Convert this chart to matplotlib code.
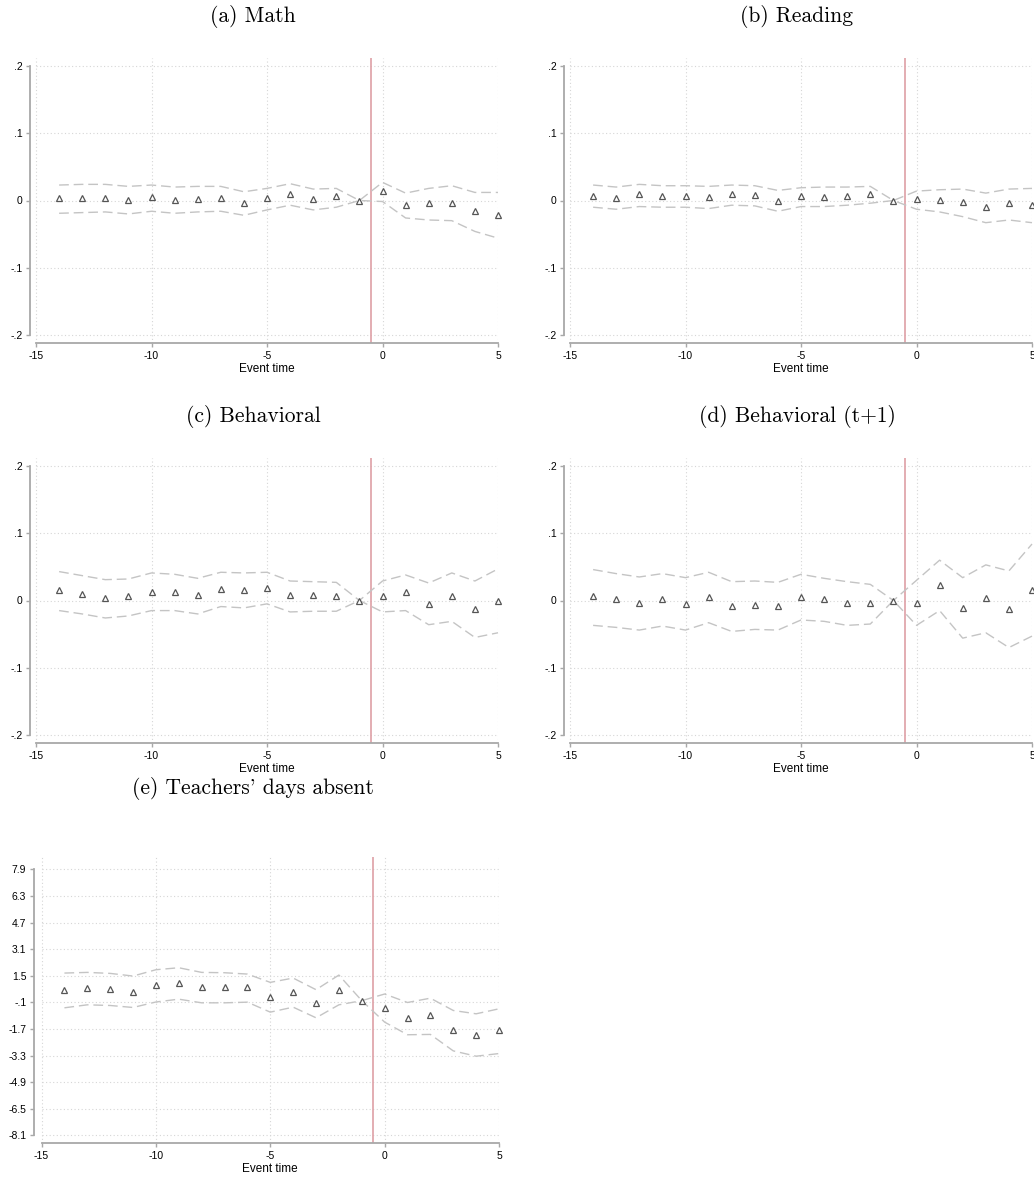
import matplotlib

matplotlib.use("Agg")
import matplotlib.pyplot as plt
import numpy as np

# event time periods (reference period is -1)
event_time = [-14, -13, -12, -11, -10, -9, -8, -7, -6, -5, -4, -3, -2, -1, 0, 1, 2, 3, 4, 5]

# (a) Math
math_b = [0.0035, 0.0035, 0.004, 0.001, 0.005, 0.001, 0.0025, 0.003, -0.004, 0.0035,
          0.009, 0.002, 0.006, 0.0, 0.014, -0.006, -0.004, -0.004, -0.016, -0.022]
math_hi = [0.023, 0.024, 0.024, 0.021, 0.023, 0.020, 0.021, 0.021, 0.013, 0.018,
           0.025, 0.017, 0.018, 0.0, 0.027, 0.011, 0.018, 0.022, 0.012, 0.012]
math_lo = [-0.019, -0.018, -0.017, -0.020, -0.016, -0.019, -0.017, -0.016, -0.022, -0.014,
           -0.007, -0.014, -0.010, 0.0, -0.0015, -0.026, -0.029, -0.030, -0.046, -0.056]

# (b) Reading
read_b = [0.007, 0.0035, 0.009, 0.0065, 0.0065, 0.0045, 0.009, 0.0075, 0.0, 0.0065,
          0.0055, 0.007, 0.009, 0.0, 0.002, 0.0005, -0.0015, -0.010, -0.0035, -0.0065]
read_hi = [0.023, 0.020, 0.024, 0.022, 0.022, 0.021, 0.023, 0.022, 0.015, 0.019,
           0.020, 0.020, 0.021, 0.0, 0.014, 0.016, 0.017, 0.011, 0.017, 0.018]
read_lo = [-0.010, -0.013, -0.009, -0.010, -0.010, -0.012, -0.007, -0.008, -0.016, -0.009,
           -0.009, -0.007, -0.004, 0.0, -0.013, -0.017, -0.024, -0.033, -0.029, -0.033]

# (c) Behavioral
beh_b = [0.015, 0.009, 0.003, 0.006, 0.013, 0.012, 0.0075, 0.017, 0.015, 0.019,
         0.0075, 0.0075, 0.006, 0.0, 0.006, 0.013, -0.0045, 0.006, -0.013, 0.0]
beh_hi = [0.043, 0.037, 0.031, 0.032, 0.041, 0.039, 0.033, 0.042, 0.041, 0.042,
          0.029, 0.028, 0.027, 0.0, 0.029, 0.038, 0.026, 0.041, 0.029, 0.047]
beh_lo = [-0.015, -0.020, -0.026, -0.023, -0.015, -0.015, -0.020, -0.009, -0.011, -0.005,
          -0.017, -0.016, -0.016, 0.0, -0.017, -0.015, -0.036, -0.031, -0.055, -0.048]

# (d) Behavioral (t+1)
beh1_b = [0.006, 0.0015, -0.004, 0.0015, -0.0045, 0.0055, -0.0085, -0.006, -0.0085, 0.0055,
          0.002, -0.0035, -0.0035, 0.0, -0.003, 0.023, -0.0105, 0.0035, -0.013, 0.015]
beh1_hi = [0.046, 0.040, 0.035, 0.040, 0.034, 0.042, 0.028, 0.029, 0.027, 0.039,
           0.033, 0.028, 0.024, 0.0, 0.030, 0.060, 0.034, 0.053, 0.044, 0.084]
beh1_lo = [-0.037, -0.040, -0.044, -0.038, -0.044, -0.033, -0.046, -0.043, -0.044, -0.029,
           -0.031, -0.037, -0.035, 0.0, -0.037, -0.015, -0.056, -0.048, -0.070, -0.053]

# (e) Teachers' days absent
abs_b = [0.64, 0.76, 0.68, 0.54, 0.92, 1.08, 0.82, 0.82, 0.82, 0.21,
         0.50, -0.15, 0.66, 0.0, -0.43, -1.05, -0.89, -1.79, -2.05, -1.75]
abs_hi = [1.66, 1.70, 1.64, 1.48, 1.86, 1.98, 1.70, 1.68, 1.60, 1.10,
          1.36, 0.66, 1.54, 0.0, 0.40, -0.11, 0.15, -0.59, -0.79, -0.49]
abs_lo = [-0.43, -0.25, -0.29, -0.41, -0.08, 0.09, -0.13, -0.13, -0.09, -0.69,
          -0.39, -1.03, -0.25, 0.0, -1.29, -2.05, -2.03, -3.02, -3.34, -3.18]

x_ticks = [-15, -10, -5, 0, 5]
small_ticks = [-0.2, -0.1, 0.0, 0.1, 0.2]
small_labels = ["-.2", "-.1", "0", ".1", ".2"]
abs_ticks = [-8.1, -6.5, -4.9, -3.3, -1.7, -0.1, 1.5, 3.1, 4.7, 6.3, 7.9]
abs_labels = ["-8.1", "-6.5", "-4.9", "-3.3", "-1.7", "-.1", "1.5", "3.1", "4.7", "6.3", "7.9"]

W, H = 1034, 1181
fig = plt.figure(figsize=(W / 100, H / 100), dpi=100)

SANS = "Liberation Sans"
SPINE = "#a8a8a8"
GRID = "#d6d6d6"


def panel(box, title, title_xy, b, lo, hi, yticks, ylabels, ylim, xpad):
    # box = (left, top, right, bottom) in pixels
    l, t, r, btm = box
    ax = fig.add_axes([l / W, 1 - btm / H, (r - l) / W, (btm - t) / H])
    ax.set_xlim(-15 - xpad, 5)
    ax.set_ylim(*ylim)

    ax.hlines(yticks, -15, 5, colors=GRID, linestyles=(0, (1, 2.2)), lw=0.8, zorder=0)
    ax.vlines(x_ticks, ylim[0], ylim[1], colors=GRID, linestyles=(0, (1, 2.2)), lw=0.8, zorder=0)

    ax.axvline(-0.5, color="#dea0a6", lw=1.2, zorder=1)
    ax.plot(event_time, hi, color="#c4c4c4", lw=1.0, dashes=(7, 3.5), zorder=2, clip_on=False)
    ax.plot(event_time, lo, color="#c4c4c4", lw=1.0, dashes=(7, 3.5), zorder=2, clip_on=False)
    ax.plot(event_time, b, ls="none", marker="^", ms=4.0, mfc="white", mec="#555555",
            mew=0.9, zorder=3, clip_on=False)

    for s in ["top", "right"]:
        ax.spines[s].set_visible(False)
    for s in ["left", "bottom"]:
        ax.spines[s].set_color(SPINE)
        ax.spines[s].set_linewidth(1.3)
    ax.spines["left"].set_bounds(min(yticks), max(yticks))
    ax.spines["bottom"].set_bounds(-15, 5)

    ax.set_xticks(x_ticks)
    ax.set_xticklabels([str(v) for v in x_ticks])
    ax.set_yticks(yticks)
    ax.set_yticklabels(ylabels)
    ax.tick_params(axis="both", length=3, width=1.0, color=SPINE, labelsize=7.5, pad=2.5)
    for lab in ax.get_xticklabels() + ax.get_yticklabels():
        lab.set_fontfamily(SANS)
    ax.set_xlabel("Event time", fontsize=8.5, fontfamily=SANS)
    ax.xaxis.set_label_coords((10 + xpad) / (20 + xpad), -20 / (btm - t))

    fig.text(title_xy[0] / W, 1 - title_xy[1] / H, title, ha="center", va="center",
             fontsize=15.5, fontfamily="cmr10")
    return ax


s_ylim = (-0.212, 0.212)
panel((30, 58, 498, 343), "(a) Math", (253, 16), math_b, math_lo, math_hi,
      small_ticks, small_labels, s_ylim, 0.26)
panel((564, 58, 1032, 343), "(b) Reading", (797, 16), read_b, read_lo, read_hi,
      small_ticks, small_labels, s_ylim, 0.26)
panel((30, 458, 498, 743), "(c) Behavioral", (253, 416), beh_b, beh_lo, beh_hi,
      small_ticks, small_labels, s_ylim, 0.26)
panel((564, 458, 1032, 743), "(d) Behavioral (t+1)", (797, 416), beh1_b, beh1_lo, beh1_hi,
      small_ticks, small_labels, s_ylim, 0.26)
panel((34, 857, 499, 1143), "(e) Teachers' days absent", (253, 789), abs_b, abs_lo, abs_hi,
      abs_ticks, abs_labels, (-8.56, 8.64), 0.33)

fig.savefig("out.png", dpi=100)
